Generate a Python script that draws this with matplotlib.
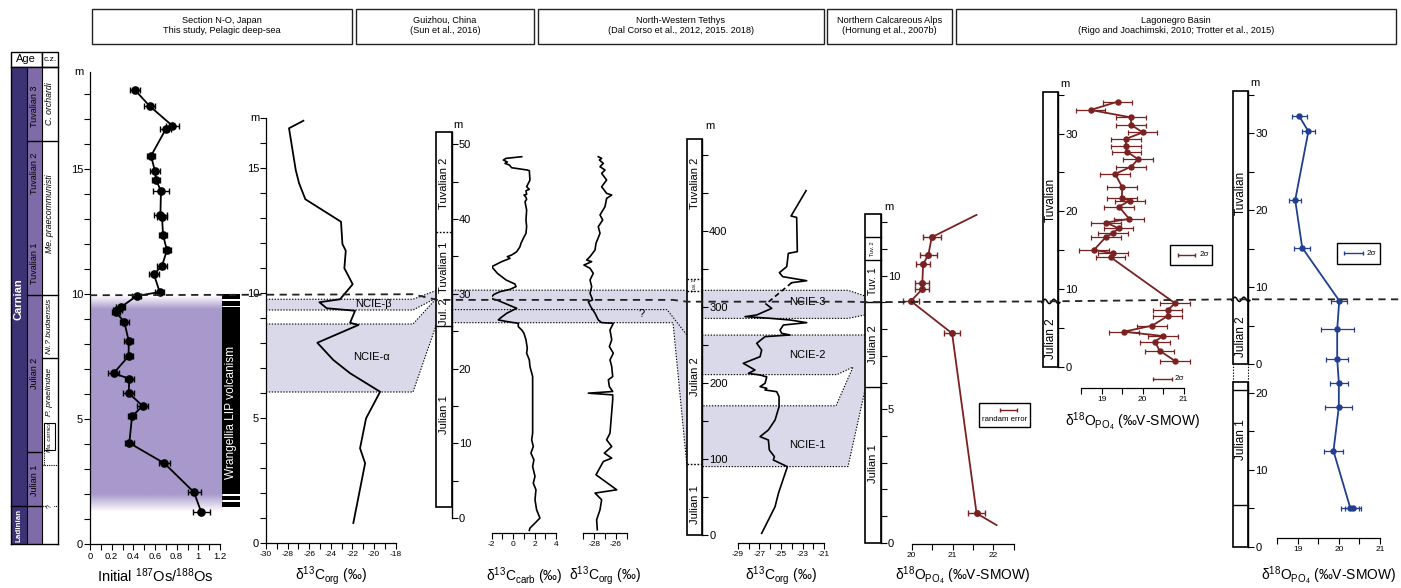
import numpy as np
import matplotlib.pyplot as plt
from matplotlib.patches import Rectangle, Polygon

plt.rcParams['font.family'] = ['Liberation Sans', 'DejaVu Sans']
plt.rcParams['mathtext.fontset'] = 'custom'
plt.rcParams['mathtext.rm'] = 'Liberation Sans'
plt.rcParams['mathtext.it'] = 'Liberation Sans:italic'
plt.rcParams['axes.unicode_minus'] = False

# ---------------- data (depth in m) ----------------
# Section N-O, Japan: initial 187Os/188Os
os_depth = [18.16, 17.52, 16.73, 16.60, 15.52, 14.92, 14.56, 14.12, 13.16, 13.09,
            12.36, 11.75, 11.13, 10.79, 10.08, 9.92, 9.47, 9.36, 9.27, 8.88,
            8.13, 7.52, 6.83, 6.61, 6.04, 5.52, 5.11, 4.04, 3.23, 2.07, 1.27]
os_ratio = [0.415, 0.55, 0.76, 0.70, 0.563, 0.60, 0.61, 0.655, 0.65, 0.665,
            0.674, 0.71, 0.665, 0.59, 0.643, 0.43, 0.283, 0.252, 0.24, 0.317,
            0.357, 0.357, 0.218, 0.363, 0.357, 0.486, 0.388, 0.363, 0.686, 0.96, 1.027]
os_err = [0.05, 0.05, 0.06, 0.05, 0.04, 0.05, 0.04, 0.07, 0.06, 0.05,
          0.04, 0.04, 0.05, 0.05, 0.04, 0.04, 0.04, 0.04, 0.04, 0.04,
          0.04, 0.04, 0.05, 0.04, 0.05, 0.05, 0.04, 0.04, 0.05, 0.06, 0.08]
# Wrangellia LIP volcanism bar segments (bottom, top)
wrangellia = [(9.79, 10.0), (9.53, 9.72), (2.0, 9.47), (1.76, 1.93), (1.47, 1.69)]

# Section N-O: d13C org
no_depth = [16.89, 16.59, 14.92, 14.39, 13.75, 12.85, 11.96, 11.69, 10.99, 10.35,
            9.75, 9.63, 9.39, 9.29, 8.81, 8.72, 8.01, 7.32, 6.79, 6.05,
            4.99, 3.79, 3.19, 0.80]
no_d13c = [-26.54, -27.87, -27.25, -26.94, -26.36, -23.06, -22.93, -22.62, -22.75, -21.98,
           -23.15, -25.06, -24.38, -21.76, -22.22, -21.45, -25.25, -23.77, -22.22, -19.44,
           -20.74, -21.30, -20.83, -21.92]

# Guizhou, China
gz_carb_depth = [48.34, 48.12, 47.90, 47.63, 47.45, 47.23, 46.87, 46.56, 46.47, 45.22,
                 44.33, 43.98, 43.80, 43.31, 43.22, 42.91, 42.64, 42.33, 41.21, 39.88,
                 38.99, 38.10, 37.43, 36.76, 36.31, 35.64, 35.20, 34.98, 34.75, 34.31,
                 33.64, 32.75, 31.86, 31.32, 30.97, 30.61, 30.30, 29.94, 29.41, 29.19,
                 28.08, 27.41, 26.74, 26.52, 26.29, 26.07, 25.63, 25.18, 24.74, 23.85,
                 22.74, 22.07, 21.18, 20.29, 18.95, 15.84, 11.38, 10.49, 9.60, 8.71,
                 7.82, 6.93, 5.60, 4.70, 3.81, 2.48, 1.14, 0.03, -0.64, -1.31, -1.62]
gz_carb = [0.80, -0.66, -0.91, -0.54, -0.76, -0.35, -0.14, 1.32, 1.51, 1.57,
           1.26, 1.51, 1.20, 1.26, 1.01, 1.20, 1.26, 1.11, 1.26, 1.20,
           1.26, 1.20, 0.95, 0.73, 0.64, 0.33, -0.14, -0.54, -0.29, -1.07,
           -2.0, -1.47, -0.66, 0.17, 0.27, -0.29, -1.22, -1.78, -2.16, -1.53,
           0.33, -0.60, -1.22, -1.38, -0.54, 0.48, 0.48, 0.80, 1.01, 1.20,
           1.32, 1.26, 1.51, 1.57, 1.82, 1.82, 1.82, 1.73, 1.88, 1.66,
           1.94, 1.82, 2.04, 1.88, 2.13, 2.04, 2.19, 2.50, 2.04, 1.57, 1.51]
gz_org_depth = [48.34, 48.12, 47.90, 47.45, 47.01, 46.56, 46.12, 45.22, 44.33, 43.44,
                43.22, 42.77, 41.66, 40.55, 39.88, 38.99, 38.10, 36.76, 35.87, 34.98,
                34.53, 34.31, 33.86, 33.42, 32.75, 31.86, 30.97, 30.08, 29.19, 28.97,
                28.30, 27.41, 26.52, 26.16, 26.07, 25.18, 23.85, 22.96, 22.07, 21.18,
                20.29, 18.95, 18.51, 17.62, 16.95, 16.73, 16.50, 15.84, 11.38, 10.49,
                9.60, 8.71, 8.04, 7.60, 5.82, 3.81, 3.37, 2.48, 1.14, -0.19, -1.53]
gz_org = [-27.62, -27.31, -27.52, -27.15, -27.46, -27.0, -27.31, -26.85, -27.31, -26.85,
          -26.38, -26.85, -27.0, -27.46, -27.21, -27.62, -27.46, -27.83, -27.92, -28.38,
          -28.69, -28.23, -28.94, -28.38, -28.08, -28.38, -28.23, -28.38, -28.14, -28.54,
          -28.32, -27.92, -27.62, -27.31, -26.23, -26.54, -26.38, -26.6, -26.23, -26.54,
          -26.38, -26.29, -26.69, -26.6, -26.29, -28.54, -26.29, -26.29, -26.54, -26.85,
          -26.38, -27.06, -26.38, -27.15, -27.83, -25.92, -27.92, -27.31, -27.46, -27.77, -27.71]

# North-Western Tethys (upper solid part, dashed gap, lower solid part)
nw_upper_depth = [453.1, 419.7, 417.9, 372.8, 370.6, 353.1, 345.2, 339.9, 334.6, 332.0]
nw_upper = [-22.67, -24.06, -23.54, -23.48, -24.31, -24.46, -25.14, -24.83, -22.61, -24.0]
nw_lower_depth = [303.9, 298.2, 289.5, 287.3, 285.1, 282.9, 279.4, 276.3, 269.7, 265.4,
                  263.2, 261.0, 252.2, 243.4, 234.6, 225.9, 217.1, 212.7, 210.5, 208.0,
                  199.6, 195.2, 193.0, 190.8, 188.6, 182.0, 168.9, 151.3, 138.2, 129.4,
                  125.0, 111.8, 103.1, 98.7, 89.9, 54.8, 37.3, 2.2]
nw_lower = [-26.38, -25.85, -27.24, -28.32, -26.0, -24.15, -22.61, -24.77, -25.08, -24.93,
            -24.15, -26.47, -27.24, -26.78, -26.93, -28.48, -27.40, -28.01, -26.93, -26.31,
            -26.47, -26.93, -26.31, -26.47, -25.39, -25.17, -25.17, -25.54, -26.16, -26.93,
            -26.16, -26.07, -25.60, -25.70, -24.40, -25.23, -25.54, -26.78]

# Northern Calcareous Alps (first and last entries: trend line only, no sample)
alps_depth = [12.28, 11.44, 10.79, 10.43, 9.71, 9.50, 9.05, 7.84, 1.10, 0.66]
alps_d18o = [21.59, 20.49, 20.41, 20.28, 20.26, 20.26, 19.98, 20.99, 21.59, 22.08]
alps_err = [0, 0.22, 0.20, 0.17, 0.17, 0.17, 0.20, 0.20, 0.20, 0]

# Lagonegro Basin, section 1
lg1_depth = [34.11, 33.04, 32.09, 31.11, 30.16, 29.31, 28.45, 27.68, 26.70, 25.75,
             24.81, 23.10, 21.68, 21.38, 20.61, 19.02, 18.55, 17.81, 17.17, 16.74,
             15.02, 14.59, 14.08, 8.16, 7.30, 6.53, 5.28, 4.51, 3.95, 3.23, 2.07, 0.74]
lg1_d18o = [19.39, 18.73, 19.71, 19.72, 20.0, 19.59, 19.59, 19.61, 19.89, 19.72,
            19.33, 19.50, 19.49, 19.69, 19.42, 19.67, 19.11, 19.41, 19.27, 19.11,
            18.81, 19.28, 19.22, 20.79, 20.61, 20.61, 20.23, 19.54, 20.49, 20.30, 20.41, 20.79]
lg1_err = 0.36

# Lagonegro Basin, section 2 (upper log and lower log)
lg2_up_depth = [32.16, 30.21, 21.30, 15.10, 8.22, 4.49, 0.65]
lg2_up = [19.04, 19.26, 18.94, 19.11, 20.01, 19.96, 19.96]
lg2_up_err = [0.19, 0.16, 0.14, 0.19, 0.19, 0.40, 0.26]
lg2_lo_depth = [21.30, 18.18, 12.43, 4.99, 4.99]
lg2_lo = [20.0, 20.0, 19.87, 20.28, 20.35]
lg2_lo_err = [0.22, 0.33, 0.23, 0.22, 0.20]

# ---------------- colours ----------------
STAGE = '#3d3274'
SUBSTAGE = '#7e6ba8'
OS_SHADE = (0.66, 0.60, 0.80)
BAND = '#d9d9ea'
RED = '#7a2222'
BLUE = '#213f8f'
XLAB_Y = 576

# ---------------- figure & helpers ----------------
W, H = 1401, 588
fig = plt.figure(figsize=(W / 100, H / 100), dpi=100)
bg = fig.add_axes([0, 0, 1, 1], zorder=0)
bg.set_xlim(0, W); bg.set_ylim(H, 0); bg.axis('off')


def px_axes(x0, x1, ytop, ybot, xlim, ylim, z=2):
    ax = fig.add_axes([x0 / W, 1 - ybot / H, (x1 - x0) / W, (ybot - ytop) / H], zorder=z)
    ax.set_xlim(*xlim); ax.set_ylim(*ylim)
    ax.patch.set_visible(False)
    return ax


def depth_axes(x0, x1, y0, ppm, d_lo, d_hi, xlim=(0, 1), z=2):
    return px_axes(x0, x1, y0 - d_hi * ppm, y0 - d_lo * ppm, xlim, (d_lo, d_hi), z)


def yp(ax, d):
    return H - ax.transData.transform((ax.get_xlim()[0], d))[1]


def cx(ax):
    p = ax.get_position()
    return (p.x0 + p.x1) / 2 * W


def curve_xaxis(ax, major, labels, minor, size=6.5):
    for s in ('top', 'right', 'left'):
        ax.spines[s].set_visible(False)
    ax.spines['bottom'].set_bounds(ax.get_xlim()[0], ax.get_xlim()[1])
    ax.spines['bottom'].set_linewidth(0.9)
    ax.set_xticks(major)
    ax.set_xticklabels(labels)
    ax.set_xticks(minor, minor=True)
    ax.set_yticks([])
    ax.tick_params(axis='x', which='both', direction='out', length=4, width=0.8,
                   labelsize=size, pad=1.5)


def column(ax, d_bot, d_top, major, labels, minor, spine_hi=None):
    for s in ('top', 'left', 'bottom'):
        ax.spines[s].set_visible(False)
    ax.spines['right'].set_bounds(0, d_top if spine_hi is None else spine_hi)
    ax.spines['right'].set_linewidth(1.0)
    ax.yaxis.tick_right()
    ax.set_xticks([])
    ax.set_yticks(major)
    ax.set_yticklabels(labels)
    ax.set_yticks(minor, minor=True)
    ax.tick_params(axis='y', which='both', direction='out', length=4, width=0.8,
                   labelsize=8, pad=1)
    ax.add_patch(Rectangle((0, d_bot), 1, d_top - d_bot, transform=ax.get_yaxis_transform(),
                           fc='white', ec='black', lw=1.2, clip_on=False, zorder=1))


def col_line(ax, d, ls='-', lw=1.0, x0=0, x1=1):
    ax.plot([x0, x1], [d, d], transform=ax.get_yaxis_transform(), color='k', lw=lw,
            ls=ls, clip_on=False, zorder=3)


def col_text(ax, d, s, size=8, **kw):
    ax.text(0.5, d, s, transform=ax.get_yaxis_transform(), rotation=90, ha='center',
            va='center', fontsize=size, zorder=4, **kw)


def wavy(ax, d):
    t = np.linspace(-0.05, 1.1, 60)
    ax.plot(t, d + 0.28 * np.sin(t * 3.5 * np.pi), transform=ax.get_yaxis_transform(),
            color='k', lw=1.1, clip_on=False, zorder=3)


def unclip(container):
    for art in container.get_children():
        art.set_clip_on(False)


def dotted(pts):
    bg.plot([p[0] for p in pts], [p[1] for p in pts], color='k', lw=0.8,
            ls=(0, (1.2, 1.4)), zorder=2)


def band(pts, color=BAND):
    bg.add_patch(Polygon(pts, closed=True, fc=color, ec='none', zorder=1))


def m_label(x, y, ha='left'):
    bg.text(x, y, 'm', fontsize=8, ha=ha, va='center')


def xlabel(ax, s, y=XLAB_Y):
    bg.text(cx(ax), y, s, ha='center', va='center', fontsize=10)


# ---------------- header boxes ----------------
headers = [(92, 352, 'Section N-O, Japan\nThis study, Pelagic deep-sea'),
           (356, 534, 'Guizhou, China\n(Sun et al., 2016)'),
           (538, 824, 'North-Western Tethys\n(Dal Corso et al., 2012, 2015. 2018)'),
           (827, 952, 'Northern Calcareous Alps\n(Hornung et al., 2007b)'),
           (956, 1396, 'Lagonegro Basin\n(Rigo and Joachimski, 2010; Trotter et al., 2015)')]
for x0, x1, txt in headers:
    bg.add_patch(Rectangle((x0, 8.5), x1 - x0, 35.5, fc='white', ec='#222222', lw=1.0))
    bg.text((x0 + x1) / 2, 25.5, txt, ha='center', va='center', fontsize=6.6,
            linespacing=1.1)

# ---------------- age column (Section N-O scale) ----------------
age = depth_axes(11, 58.3, 544, 25, 0, 19.09)
age.set_xticks([]); age.set_yticks([])
for s in age.spines.values():
    s.set_linewidth(1.0)
ytr = age.get_yaxis_transform()
age.add_patch(Rectangle((0, 0), 0.332, 19.09, transform=ytr, fc=STAGE, ec='none'))
age.add_patch(Rectangle((0.332, 0), 0.317, 19.09, transform=ytr, fc=SUBSTAGE, ec='none'))
for xv in (0.332, 0.649):
    age.plot([xv, xv], [0, 19.09], transform=ytr, color='k', lw=0.8)
col_line(age, 1.52, x0=0, x1=0.649)
col_line(age, 16.13, x0=0.332)
col_line(age, 9.96, x0=0.332)
col_line(age, 3.67, x0=0.332, x1=0.649)
col_line(age, 7.43, x0=0.649)
col_line(age, 3.16, ls=(0, (1, 1)), lw=0.8, x0=0.649)
col_line(age, 1.52, ls=(0, (1, 1)), lw=0.8, x0=0.649)
age.add_patch(Rectangle((0.70, 3.76), 0.23, 1.08, transform=ytr, fc='white', ec='k', lw=0.8))
age.plot([0.70, 0.70], [3.16, 3.76], transform=ytr, color='k', lw=0.8, ls=(0, (1, 1)))
age.text(0.166, 9.8, 'Carnian', transform=ytr, rotation=90, ha='center', va='center',
         color='white', fontsize=8, fontweight='bold')
age.text(0.166, 0.76, 'Ladinian', transform=ytr, rotation=90, ha='center', va='center',
         color='white', fontsize=5.8, fontweight='bold')
for d, s in [(17.5, 'Tuvalian 3'), (14.84, 'Tuvalian 2'), (11.24, 'Tuvalian 1'),
             (6.84, 'Julian 2'), (2.56, 'Julian 1')]:
    age.text(0.49, d, s, transform=ytr, rotation=90, ha='center', va='center', fontsize=6.5)
for d, s, fs in [(17.6, 'C. orchardi', 6.3), (13.2, 'Me. praecommunisti', 6.3),
                 (8.7, 'Ni.? budaensis', 6.0), (6.1, 'P. praelindae', 6.0),
                 (4.3, 'Ma. carnica', 4.2)]:
    age.text(0.815, d, s, transform=ytr, rotation=90, ha='center', va='center',
             fontsize=fs, style='italic')
age.text(0.825, 1.52, '?', transform=ytr, rotation=90, ha='center', va='center', fontsize=5,
         bbox=dict(fc='white', ec='none', pad=0.3))
bg.add_patch(Rectangle((11, 51.7), 30.7, 15, fc='white', ec='k', lw=1.0))
bg.add_patch(Rectangle((41.7, 51.7), 16.6, 15, fc='white', ec='k', lw=1.0))
bg.text(26.3, 59.5, 'Age', ha='center', va='center', fontsize=8)
bg.text(50, 59.5, 'c.z.', ha='center', va='center', fontsize=6)

# ---------------- Section N-O: Os isotopes ----------------
os_ax = depth_axes(90, 220, 544, 25, 0, 18.9, xlim=(0, 1.2))
shade_d = np.linspace(1.3, 9.95, 300)
shade_a = np.clip(np.minimum((shade_d - 1.3) / 0.7, (9.95 - shade_d) / 0.55), 0, 1)
img = np.zeros((300, 1, 4))
img[..., 0], img[..., 1], img[..., 2] = OS_SHADE
img[..., 3] = shade_a[:, None]
os_ax.imshow(img, extent=(0, 1.22, 1.3, 9.95), origin='lower', aspect='auto',
             interpolation='bilinear', zorder=0, clip_on=False)
os_ax.set_xlim(0, 1.2); os_ax.set_ylim(0, 18.9)
eb = os_ax.errorbar(os_ratio, os_depth, xerr=os_err, fmt='-o', color='k', ms=5.2,
                    lw=1.3, elinewidth=1.0, capsize=2.2, capthick=1.0, zorder=5)
unclip(eb)
for lo, hi in wrangellia:
    os_ax.add_patch(Rectangle((1.22, lo), 0.165, hi - lo, fc='black', ec='none',
                              clip_on=False, zorder=4))
os_ax.text(1.303, 5.25, 'Wrangellia LIP volcanism', rotation=90, ha='center', va='center',
           color='white', fontsize=8.6, zorder=6)
curve_xaxis(os_ax, np.arange(0, 1.21, 0.2), ['0', '0.2', '0.4', '0.6', '0.8', '1', '1.2'],
            np.arange(0.1, 1.2, 0.2), size=6.8)
os_ax.spines['left'].set_visible(True)
os_ax.spines['left'].set_linewidth(0.9)
os_ax.set_yticks([0, 5, 10, 15])
os_ax.set_yticks(np.arange(0, 19, 1), minor=True)
os_ax.tick_params(axis='y', which='both', direction='out', length=4, width=0.8,
                  labelsize=8, pad=1)
m_label(84, yp(os_ax, 18.9), ha='right')
bg.text(cx(os_ax), XLAB_Y, 'Initial $^{187}$Os/$^{188}$Os', ha='center', va='center',
        fontsize=10.5)

# ---------------- Section N-O: d13C org ----------------
no_ax = depth_axes(266, 395.7, 543, 25, 0, 17.0, xlim=(-30, -18))
no_ax.plot(no_d13c, no_depth, color='k', lw=1.3, zorder=5)
curve_xaxis(no_ax, np.arange(-30, -17, 2), [str(v) for v in range(-30, -17, 2)],
            np.arange(-29, -18, 2), size=6)
no_ax.spines['left'].set_visible(True)
no_ax.spines['left'].set_linewidth(0.9)
no_ax.set_yticks([0, 5, 10, 15])
no_ax.set_yticks(np.arange(0, 17.1, 1), minor=True)
no_ax.tick_params(axis='y', which='both', direction='out', length=4, width=0.8,
                  labelsize=8, pad=1)
m_label(260, yp(no_ax, 17.0), ha='right')
xlabel(no_ax, 'δ$^{13}$C$_{\\mathrm{org}}$ (‰)')

# ---------------- Guizhou ----------------
gz_col = depth_axes(436, 451.7, 518.3, 7.48, 0, 51.7)
column(gz_col, 1.47, 51.7, [0, 10, 20, 30, 40, 50], ['0', '10', '20', '30', '40', '50'],
       np.arange(0, 51, 5))
col_line(gz_col, 38.3, ls=(0, (1.2, 1.2)), lw=1.0)
col_line(gz_col, 25.7)
col_text(gz_col, 44.8, 'Tuvalian 2')
col_text(gz_col, 33.6, 'Tuvalian 1')
col_text(gz_col, 27.6, 'Jul. 2')
col_text(gz_col, 13.8, 'Julian 1')
m_label(453, yp(gz_col, 51.7) - 7)
gz_c = depth_axes(491.7, 556, 518.3, 7.48, -2.0, 50, xlim=(-2, 4))
gz_c.plot(gz_carb, gz_carb_depth, color='k', lw=1.2, zorder=5)
curve_xaxis(gz_c, [-2, 0, 2, 4], ['-2', '0', '2', '4'], [-1, 1, 3], size=6)
gz_o = depth_axes(583.3, 626.7, 518.3, 7.48, -2.0, 50, xlim=(-29, -25))
gz_o.plot(gz_org, gz_org_depth, color='k', lw=1.2, zorder=5)
curve_xaxis(gz_o, [-28, -26], ['-28', '-26'], [-29, -27, -25], size=6)
xlabel(gz_c, 'δ$^{13}$C$_{\\mathrm{carb}}$ (‰)')
xlabel(gz_o, 'δ$^{13}$C$_{\\mathrm{org}}$ (‰)')

# ---------------- North-Western Tethys ----------------
nw_col = depth_axes(686.7, 702.3, 535, 0.76, 0, 521)
column(nw_col, 0, 521, [0, 100, 200, 300, 400], ['0', '100', '200', '300', '400'],
       np.arange(0, 501, 50))
for d in (336.4, 321.4, 93):
    col_line(nw_col, d, ls=(0, (1.2, 1.2)), lw=1.0)
col_text(nw_col, 463, 'Tuvalian 2')
col_text(nw_col, 329, 'Tuv. 1', size=3.5)
col_text(nw_col, 208, 'Julian 2')
col_text(nw_col, 40, 'Julian 1')
m_label(705, yp(nw_col, 521) - 13)
nw_c = depth_axes(737.7, 824.1, 535, 0.76, -10.9, 521, xlim=(-29, -21))
nw_c.plot(nw_upper, nw_upper_depth, color='k', lw=1.2, zorder=5)
nw_c.plot([nw_upper[-1], nw_lower[0]], [nw_upper_depth[-1], nw_lower_depth[0]], color='k',
          lw=1.2, ls=(0, (3, 2)), zorder=5)
nw_c.plot(nw_lower, nw_lower_depth, color='k', lw=1.2, zorder=5)
curve_xaxis(nw_c, [-29, -27, -25, -23, -21], ['-29', '-27', '-25', '-23', '-21'],
            [-28, -26, -24, -22], size=6)
xlabel(nw_c, 'δ$^{13}$C$_{\\mathrm{org}}$ (‰)')

# ---------------- Northern Calcareous Alps ----------------
al_col = depth_axes(865, 880.7, 542.7, 26.7, 0, 12.3)
column(al_col, 0, 12.3, [0, 5, 10], ['0', '5', '10'], np.arange(0, 12.5, 1))
for d in (11.44, 10.6, 9.01, 5.82):
    col_line(al_col, d)
col_text(al_col, 11.02, 'Tuv. 2', size=4)
col_text(al_col, 9.8, 'Tuv. 1', size=7.5)
col_text(al_col, 7.4, 'Julian 2')
col_text(al_col, 2.97, 'Julian 1')
m_label(884, yp(al_col, 12.3) - 7)
al_c = depth_axes(911.7, 1013.7, 542.7, 26.7, -0.05, 12.3, xlim=(20, 22.5))
al_c.plot(alps_d18o, alps_depth, color=RED, lw=1.3, zorder=5)
sel = [i for i, e in enumerate(alps_err) if e > 0]
eb = al_c.errorbar([alps_d18o[i] for i in sel], [alps_depth[i] for i in sel],
                   xerr=[alps_err[i] for i in sel], fmt='o', color=RED, ms=4,
                   elinewidth=1.0, capsize=2, capthick=1.0, zorder=6)
unclip(eb)
curve_xaxis(al_c, [20, 21, 22], ['20', '21', '22'], [20.5, 21.5, 22.5], size=6)
xlabel(al_c, 'δ$^{18}$O$_{\\mathrm{PO_4}}$ (‰V-SMOW)')
bg.add_patch(Rectangle((979, 402.7), 51, 24, fc='white', ec='k', lw=1.0, zorder=3))
bg.errorbar([1008], [409.5], xerr=[8.5], fmt='none', ecolor=RED, elinewidth=1.0,
            capsize=1.5, zorder=4)
bg.text(1004.5, 419.5, 'randam error', ha='center', va='center', fontsize=5.6, zorder=4)

# ---------------- Lagonegro Basin 1 ----------------
l1_col = depth_axes(1042.7, 1058.3, 366.7, 7.77, 0, 35.4)
column(l1_col, 0, 35.4, [0, 10, 20, 30], ['0', '10', '20', '30'], np.arange(0, 36, 5))
wavy(l1_col, 8.4)
col_text(l1_col, 21.5, 'Tuvalian', size=8.5)
col_text(l1_col, 3.6, 'Julian 2', size=8.5)
m_label(1060, yp(l1_col, 35.4) - 8)
l1_c = depth_axes(1081.2, 1183.7, 366.7, 7.77, -2.78, 35.4, xlim=(18.5, 21))
eb = l1_c.errorbar(lg1_d18o, lg1_depth, xerr=lg1_err, fmt='-o', color=RED, ms=3.6, lw=1.3,
                   elinewidth=0.9, capsize=1.8, capthick=0.9, zorder=5)
unclip(eb)
curve_xaxis(l1_c, [19, 20, 21], ['19', '20', '21'], [18.5, 19.5, 20.5], size=6)
xlabel(l1_c, 'δ$^{18}$O$_{\\mathrm{PO_4}}$ (‰V-SMOW)', y=421.5)
bg.add_patch(Rectangle((1170, 245), 41.7, 20, fc='white', ec='k', lw=1.0, zorder=3))
bg.errorbar([1186.5], [255], xerr=[8.5], fmt='none', ecolor=RED, elinewidth=1.0,
            capsize=1.5, zorder=4)
bg.text(1200, 255, '2σ', ha='left', va='center', fontsize=5.8, zorder=4)
bg.errorbar([1162.5], [379], xerr=[9.3], fmt='none', ecolor=RED, elinewidth=1.0,
            capsize=1.5, zorder=4)
bg.text(1175, 379, '2σ', ha='left', va='center', fontsize=5.8, zorder=4)

# ---------------- Lagonegro Basin 2 ----------------
L2_UP0, L2_LO0, L2_PPM = 364.0, 546.7, 7.7
l2_up = depth_axes(1232.7, 1248.3, L2_UP0, L2_PPM, 0, 35.4)
column(l2_up, 0, 35.4, [0, 10, 20, 30], ['0', '10', '20', '30'], np.arange(0, 36, 5))
wavy(l2_up, 8.4)
col_text(l2_up, 22.2, 'Tuvalian', size=8.5)
col_text(l2_up, 3.6, 'Julian 2', size=8.5)
l2_lo = depth_axes(1232.7, 1248.3, L2_LO0, L2_PPM, 0, 21.4)
column(l2_lo, 0, 21.4, [0, 10, 20], ['0', '10', '20'], np.arange(0, 21, 5))
col_line(l2_lo, 20.4)
col_line(l2_lo, 5.4)
col_text(l2_lo, 13.9, 'Julian 1', size=8.5)
for xv in (1232.7, 1248.3):
    dotted([(xv, yp(l2_lo, 21.4)), (xv, yp(l2_up, 0))])
m_label(1250, yp(l2_up, 35.4) - 8)
gap = (L2_LO0 - L2_UP0) / L2_PPM
l2_c = depth_axes(1277.1, 1380, L2_LO0, L2_PPM, 1.09, 35.4 + gap, xlim=(18.5, 21))
eb = l2_c.errorbar(lg2_up + lg2_lo, [d + gap for d in lg2_up_depth] + lg2_lo_depth,
                   xerr=lg2_up_err + lg2_lo_err, fmt='-o', color=BLUE, ms=3.6, lw=1.3,
                   elinewidth=0.9, capsize=1.8, capthick=0.9, zorder=5)
unclip(eb)
curve_xaxis(l2_c, [19, 20, 21], ['19', '20', '21'], [18.5, 19.5, 20.5], size=6)
xlabel(l2_c, 'δ$^{18}$O$_{\\mathrm{PO_4}}$ (‰V-SMOW)')
bg.add_patch(Rectangle((1337.3, 242.7), 42.7, 21.3, fc='white', ec='k', lw=1.0, zorder=3))
bg.errorbar([1353.7], [253.3], xerr=[9.7], fmt='none', ecolor=BLUE, elinewidth=1.0,
            capsize=1.5, zorder=4)
bg.text(1367, 253.3, '2σ', ha='left', va='center', fontsize=5.8, zorder=4)

# ---------------- correlation bands ----------------
b_t, b_b = yp(no_ax, 9.75), yp(no_ax, 9.32)
a_t, a_b = yp(no_ax, 8.76), yp(no_ax, 6.04)
g_t, g_m, g_q, g_b = yp(gz_col, 30.5), yp(gz_col, 29.5), yp(gz_col, 27.9), yp(gz_col, 26.15)
n3_t, n3_b = yp(nw_col, 322), yp(nw_col, 285)
n2_t, n1_b = yp(nw_col, 263), yp(nw_col, 90)
k_t, k_b, k_tip = yp(nw_col, 211), yp(nw_col, 170), yp(nw_col, 221)
al3_t, al3_b = yp(al_col, 9.24), yp(al_col, 8.53)
al2_t, al2_b = yp(al_col, 7.78), yp(al_col, 5.72)

band([(266, b_t), (413, b_t), (437, g_t), (437, g_m), (413, b_b), (266, b_b)])
band([(266, a_t), (413, a_t), (437, g_m), (437, g_b), (413, a_b), (266, a_b)])
band([(452, g_t), (667, g_t), (687, n3_t), (687, n1_b), (673, g_b), (452, g_b)])
band([(702, n3_t), (848, n3_t), (865, al3_t), (865, al3_b), (848, n3_b), (702, n3_b)])
band([(702, n2_t), (865, al2_t), (865, al2_b), (848, n1_b), (702, n1_b)])
band([(702, k_t), (837, k_t), (853, k_tip), (836, k_b), (702, k_b)], color='white')

dotted([(266, b_t), (413, b_t), (437, g_t)])
dotted([(266, b_b), (413, b_b), (437, g_m)])
dotted([(266, a_t), (413, a_t), (437, g_m)])
dotted([(266, a_b), (413, a_b), (437, g_b)])
dotted([(452, g_t), (667, g_t), (687, n3_t)])
dotted([(452, g_q), (667, g_q), (687, n2_t)])
dotted([(452, g_b), (673, g_b), (687, n1_b)])
dotted([(702, n3_t), (848, n3_t), (865, al3_t)])
dotted([(702, n3_b), (848, n3_b), (865, al3_b)])
dotted([(702, n2_t), (865, al2_t)])
dotted([(865, al2_b), (848, n1_b), (702, n1_b)])
dotted([(702, k_t), (837, k_t), (853, k_tip), (836, k_b), (702, k_b)])

bg.text(373, 304, 'NCIE-β', ha='center', va='center', fontsize=8)
bg.text(372, 357, 'NCIE-α', ha='center', va='center', fontsize=8)
bg.text(642, 314, '?', ha='center', va='center', fontsize=8)
bg.text(807, 302, 'NCIE-3', ha='center', va='center', fontsize=8)
bg.text(807, 355, 'NCIE-2', ha='center', va='center', fontsize=8)
bg.text(807, 445, 'NCIE-1', ha='center', va='center', fontsize=8)

# ---------------- Tuvalian / Julian boundary (dashed) ----------------
ov = fig.add_axes([0, 0, 1, 1], zorder=20)
ov.set_xlim(0, W); ov.set_ylim(H, 0); ov.axis('off')
dash_pts = [(90, yp(os_ax, 9.95)), (413, yp(no_ax, 9.95)), (437, yp(gz_col, 29.2)),
            (673, yp(gz_col, 29.2)), (687, yp(nw_col, 307)), (850, yp(nw_col, 307)),
            (865, yp(al_col, 9.01)), (1042.7, yp(l1_col, 8.4)), (1232.7, yp(l2_up, 8.4)),
            (1401, yp(l2_up, 8.4))]
ov.plot([p[0] for p in dash_pts], [p[1] for p in dash_pts], color='#222222', lw=1.3,
        ls=(0, (4, 3)))

fig.savefig('out.png', dpi=100)
